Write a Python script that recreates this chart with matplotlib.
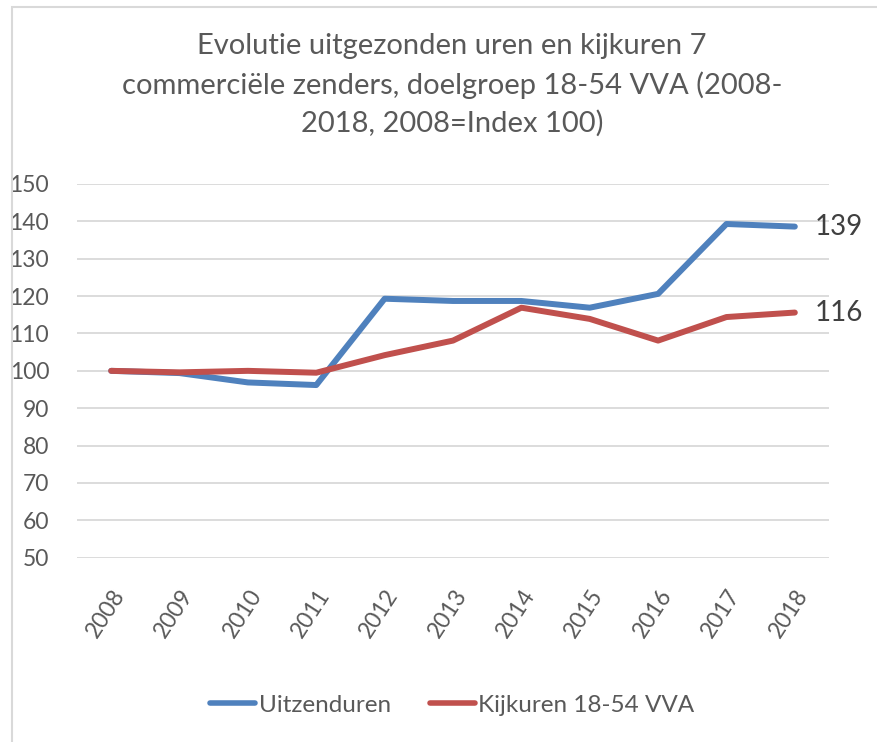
import matplotlib
matplotlib.use('Agg')
import matplotlib.pyplot as plt
from matplotlib.patches import Rectangle

plt.rcParams['font.family'] = ['Lato', 'DejaVu Sans']

years = ['2008', '2009', '2010', '2011', '2012', '2013', '2014', '2015', '2016', '2017', '2018']
uitzenduren = [100, 99.4, 96.9, 96.2, 119.3, 118.7, 118.7, 116.9, 120.6, 139.3, 138.6]
kijkuren = [100, 99.6, 100.0, 99.5, 104.2, 108.1, 116.9, 113.9, 108.1, 114.4, 115.6]
end_labels = ['139', '116']

title = ('Evolutie uitgezonden uren en kijkuren 7\n'
         'commerciële zenders, doelgroep 18-54 VVA (2008-\n'
         '2018, 2008=Index 100)')

blue = '#4F81BD'
red = '#C0504D'
text_col = '#595959'

W, H = 878, 742
fig = plt.figure(figsize=(W / 100, H / 100), dpi=100)
ax = fig.add_axes([77 / W, 1 - 557.7 / H, (829 - 77) / W, (557.7 - 184) / H])

x = range(len(years))
l1, = ax.plot(x, uitzenduren, color=blue, lw=4.3, solid_capstyle='round', solid_joinstyle='round', label='Uitzenduren', zorder=3)
l2, = ax.plot(x, kijkuren, color=red, lw=4.3, solid_capstyle='round', solid_joinstyle='round', label='Kijkuren 18-54 VVA', zorder=3)

# end-of-line data labels
ax.annotate(end_labels[0], (len(years) - 1, uitzenduren[-1]), xytext=(14, 0), textcoords='offset points',
            va='center', ha='left', fontsize=20, color='#404040', annotation_clip=False)
ax.annotate(end_labels[1], (len(years) - 1, kijkuren[-1]), xytext=(14, 0), textcoords='offset points',
            va='center', ha='left', fontsize=20, color='#404040', annotation_clip=False)

ax.set_xlim(-0.5, len(years) - 0.5)
ax.set_ylim(50, 150)
ax.set_yticks(range(50, 151, 10))
ax.set_xticks(list(x))
ax.set_xticklabels(years, rotation=57, ha='right', rotation_mode='anchor')
ax.tick_params(axis='both', length=0, labelsize=16.5, labelcolor=text_col)
ax.tick_params(axis='y', pad=20)
ax.tick_params(axis='x', pad=20)
ax.grid(axis='y', color='#D9D9D9', lw=1.3)
ax.set_axisbelow(True)
for s in ax.spines.values():
    s.set_visible(False)

fig.text(0.515, 1 - 85 / H, title, ha='center', va='center', fontsize=21, color=text_col, linespacing=1.52)

leg = fig.legend(handles=[l1, l2], loc='center', bbox_to_anchor=(0.515, 1 - 705 / H), ncol=2, frameon=False,
                 fontsize=17.5, labelcolor=text_col, handlelength=1.85, handletextpad=0.15, columnspacing=1.6)
for h in leg.legend_handles:
    h.set_linewidth(4)

# outer chart border
fig.patches.append(Rectangle((12 / W, -0.1), 1.1, 1 - 7 / H + 0.1, transform=fig.transFigure,
                             fill=False, edgecolor='#D9D9D9', lw=1.5))

fig.savefig('out.png', dpi=100)
